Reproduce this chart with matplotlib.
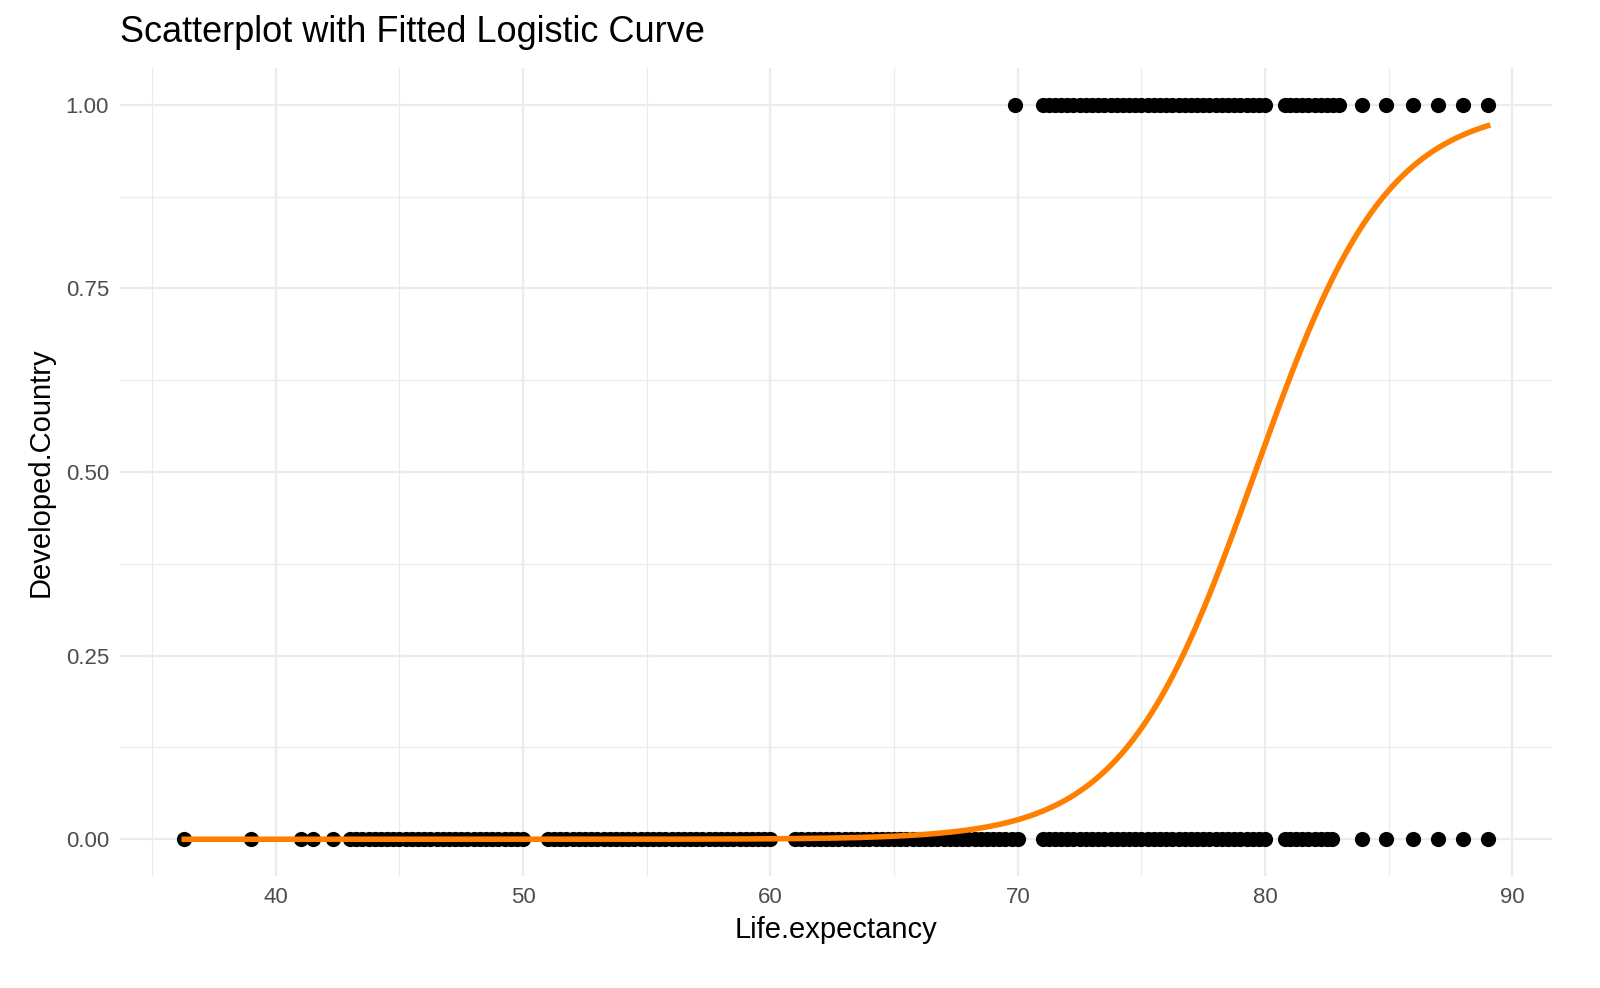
import numpy as np
import matplotlib.pyplot as plt
plt.rcParams['font.family'] = ['Liberation Sans', 'DejaVu Sans']

# Observed points (Life.expectancy) for developed = 1 and developed = 0
dev1_x = [69.9,
          71.0, 71.25, 71.5, 71.75, 72.0, 72.25, 72.5, 72.75, 73.0, 73.25, 73.5, 73.75,
          74.0, 74.25, 74.5, 74.75, 75.0, 75.25, 75.5, 75.75, 76.0, 76.25, 76.5, 76.75,
          77.0, 77.25, 77.5, 77.75, 78.0, 78.25, 78.5, 78.75, 79.0, 79.25, 79.5, 79.75, 80.0,
          80.8, 81.0, 81.25, 81.5, 81.75, 82.0, 82.25, 82.5, 82.75, 83.0,
          83.9, 84.9, 86.0, 87.0, 88.0, 89.0]
dev0_x = [36.3, 39.0, 41.0, 41.5, 42.3,
          43.0, 43.25, 43.5, 43.75, 44.0, 44.25, 44.5, 44.75, 45.0, 45.25, 45.5, 45.75,
          46.0, 46.25, 46.5, 46.75, 47.0, 47.25, 47.5, 47.75, 48.0, 48.25, 48.5, 48.75,
          49.0, 49.25, 49.5, 49.75, 50.0,
          51.0, 51.25, 51.5, 51.75, 52.0, 52.25, 52.5, 52.75, 53.0, 53.25, 53.5, 53.75,
          54.0, 54.25, 54.5, 54.75, 55.0, 55.25, 55.5, 55.75, 56.0, 56.25, 56.5, 56.75,
          57.0, 57.25, 57.5, 57.75, 58.0, 58.25, 58.5, 58.75, 59.0, 59.25, 59.5, 59.75, 60.0,
          61.0, 61.25, 61.5, 61.75, 62.0, 62.25, 62.5, 62.75, 63.0, 63.25, 63.5, 63.75,
          64.0, 64.25, 64.5, 64.75, 65.0, 65.25, 65.5, 65.75, 66.0, 66.25, 66.5, 66.75,
          67.0, 67.25, 67.5, 67.75, 68.0, 68.25, 68.5, 68.75, 69.0, 69.25, 69.5, 69.75, 70.0,
          71.0, 71.25, 71.5, 71.75, 72.0, 72.25, 72.5, 72.75, 73.0, 73.25, 73.5, 73.75,
          74.0, 74.25, 74.5, 74.75, 75.0, 75.25, 75.5, 75.75, 76.0, 76.25, 76.5, 76.75,
          77.0, 77.25, 77.5, 77.75, 78.0, 78.25, 78.5, 78.75, 79.0, 79.25, 79.5, 79.75, 80.0,
          80.8, 81.0, 81.25, 81.5, 81.75, 82.0, 82.25, 82.5, 82.7,
          83.9, 84.9, 86.0, 87.0, 88.0, 89.0]
# fitted logistic coefficients (estimated)
b0, b1 = -29.85, 0.375

fig = plt.figure(figsize=(16, 9.88), dpi=100)
ax = fig.add_axes([120/1600, 1-876/988, 1432/1600, 808/988])
ax.set_xlim(33.7, 91.6)
ax.set_ylim(-0.05, 1.05)
for s in ax.spines.values():
    s.set_visible(False)
ax.set_xticks([40, 50, 60, 70, 80, 90])
ax.set_xticks([35, 45, 55, 65, 75, 85], minor=True)
ax.set_yticks([0, 0.25, 0.5, 0.75, 1.0])
ax.set_yticklabels(['0.00', '0.25', '0.50', '0.75', '1.00'])
ax.set_yticks([0.125, 0.375, 0.625, 0.875], minor=True)
ax.grid(True, which='major', color='#EBEBEB', lw=1.6)
ax.grid(True, which='minor', color='#EBEBEB', lw=0.9)
ax.tick_params(which='both', length=0, labelsize=16, labelcolor='#4D4D4D', pad=8)
ax.set_axisbelow(True)

ax.scatter(dev1_x, [1]*len(dev1_x), s=120, color='black', zorder=3, lw=0)
ax.scatter(dev0_x, [0]*len(dev0_x), s=120, color='black', zorder=3, lw=0)
xs = np.linspace(min(dev0_x), max(dev1_x), 300)
ax.plot(xs, 1/(1+np.exp(-(b0+b1*xs))), color='#FF7F00', lw=4, zorder=4)

ax.set_xlabel('Life.expectancy', fontsize=21, labelpad=6)
ax.set_ylabel('Developed.Country', fontsize=21, labelpad=8)
fig.text(120/1600, 1-32/988, 'Scatterplot with Fitted Logistic Curve', fontsize=26, va='center')
fig.savefig('out.png', dpi=100)
